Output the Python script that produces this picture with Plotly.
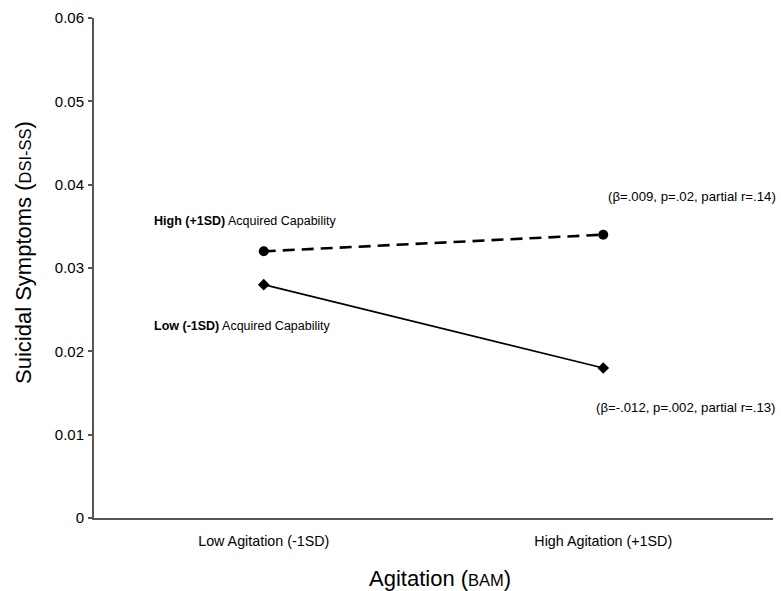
import plotly.graph_objects as go

categories = ["Low Agitation (-1SD)", "High Agitation (+1SD)"]
high_ac = [0.032, 0.034]
low_ac = [0.028, 0.018]
y_ticks = [0, 0.01, 0.02, 0.03, 0.04, 0.05, 0.06]
y_tick_labels = ["0", "0.01", "0.02", "0.03", "0.04", "0.05", "0.06"]

FONT = "Liberation Sans, Arial, sans-serif"

fig = go.Figure()
fig.add_trace(go.Scatter(
    x=categories, y=high_ac, mode="lines+markers",
    line=dict(color="black", width=2.6, dash="12px,7px"),
    marker=dict(symbol="circle", size=10, color="black"),
    showlegend=False))
fig.add_trace(go.Scatter(
    x=categories, y=low_ac, mode="lines+markers",
    line=dict(color="black", width=1.8),
    marker=dict(symbol="diamond", size=9, color="black"),
    showlegend=False))

ann_style = dict(showarrow=False, font=dict(family=FONT, size=12.5, color="black"),
                 xref="paper", yref="y", xanchor="left", yanchor="middle")
fig.add_annotation(x=0.085, y=high_ac[0] + 0.0036,
                   text="<b>High (+1SD)</b> Acquired Capability", **ann_style)
fig.add_annotation(x=0.085, y=low_ac[0] - 0.0050,
                   text="<b>Low (-1SD)</b> Acquired Capability", **ann_style)
ann_r = dict(ann_style)
ann_r["xanchor"] = "right"
ann_r["font"] = dict(family=FONT, size=13.2, color="black")
fig.add_annotation(x=1.008, y=high_ac[1] + 0.0046,
                   text="(β=.009, p=.02, partial r=.14)", **ann_r)
fig.add_annotation(x=1.008, y=low_ac[1] - 0.0047,
                   text="(β=-.012, p=.002, partial r=.13)", **ann_r)

# axis titles (as annotations for precise placement)
fig.add_annotation(x=-0.1046, y=0.532, xref="paper", yref="paper",
                   text="Suicidal Symptoms (<span style='font-size:16.5px'>DSI-SS</span>)",
                   textangle=-90, showarrow=False, xanchor="center", yanchor="middle",
                   font=dict(family=FONT, size=22, color="black"))
fig.add_annotation(x=0.5096, y=-0.12, xref="paper", yref="paper",
                   text="Agitation (<span style='font-size:16.5px'>BAM</span>)",
                   showarrow=False, xanchor="center", yanchor="middle",
                   font=dict(family=FONT, size=22, color="black"))

fig.update_layout(
    width=781, height=591,
    margin=dict(l=94, r=8, t=18, b=73),
    plot_bgcolor="white", paper_bgcolor="white",
    font=dict(family=FONT, size=12, color="black"),
    xaxis=dict(
        type="category", range=[-0.5, 1.5],
        showline=True, linecolor="#555555", linewidth=2,
        showgrid=False, zeroline=False, ticks="",
        tickfont=dict(size=14.3), ticklabelstandoff=9,
    ),
    yaxis=dict(
        range=[0, 0.06], tickvals=y_ticks, ticktext=y_tick_labels,
        showline=True, linecolor="#555555", linewidth=2,
        showgrid=False, zeroline=False, ticks="outside", ticklen=4,
        tickcolor="#555555", tickwidth=2,
        tickfont=dict(size=15), ticklabelstandoff=1,
    ),
)

fig.write_html("out.html", config={"displayModeBar": False},
               post_script="document.body.style.margin='0px';")
